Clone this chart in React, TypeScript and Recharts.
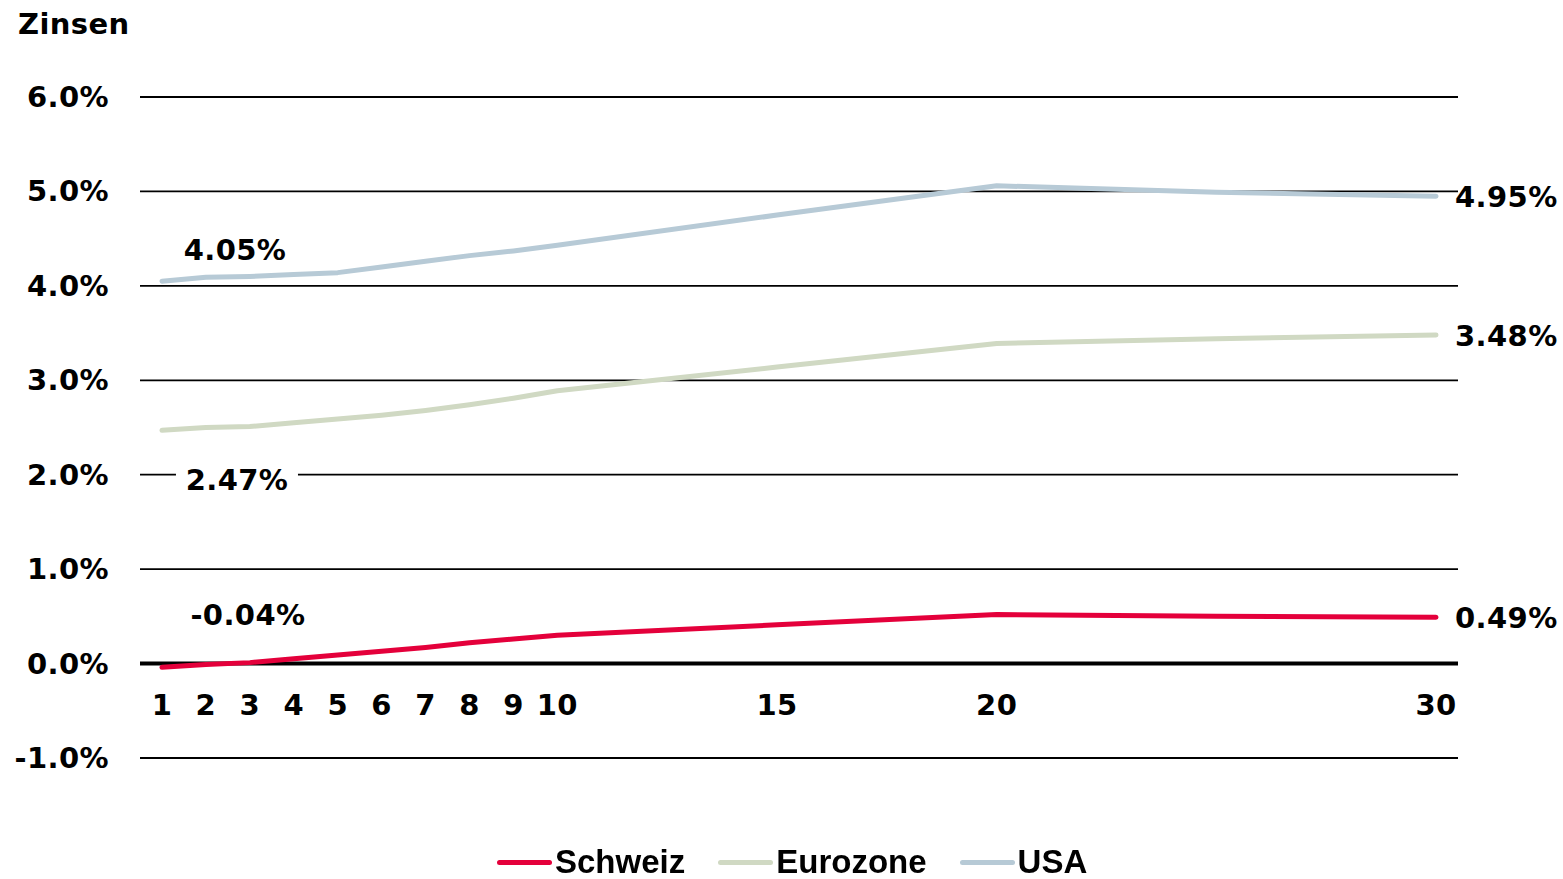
import React from 'react';
import { CartesianGrid, LabelList, Line, LineChart, ReferenceLine, XAxis, YAxis } from 'recharts';

const years = [1, 2, 3, 4, 5, 6, 7, 8, 9, 10, 15, 20, 25, 30];
const schweiz = [-0.04, -0.01, 0.01, 0.05, 0.09, 0.13, 0.17, 0.22, 0.26, 0.3, 0.41, 0.52, 0.5, 0.49];
const eurozone = [2.47, 2.5, 2.51, 2.55, 2.59, 2.63, 2.68, 2.74, 2.81, 2.89, 3.14, 3.39, 3.44, 3.48];
const usa = [4.05, 4.09, 4.1, 4.12, 4.14, 4.2, 4.26, 4.32, 4.37, 4.43, 4.75, 5.06, 4.99, 4.95];
const xTicks = [1, 2, 3, 4, 5, 6, 7, 8, 9, 10, 15, 20, 30];
const yTicks = [-1, 0, 1, 2, 3, 4, 5, 6];

const series = [
  { key: 'schweiz', name: 'Schweiz', color: '#e4003b' },
  { key: 'eurozone', name: 'Eurozone', color: '#d0d9c3' },
  { key: 'usa', name: 'USA', color: '#b7cad6' },
];

const data = years.map((y, i) => ({ year: y, schweiz: schweiz[i], eurozone: eurozone[i], usa: usa[i] }));

const FONT = '"DejaVu Sans", sans-serif';
const FS = 29;
const LS = 0.4;
const fmt = (v: number) => v.toFixed(2) + '%';
const last = years.length - 1;

// first-point label offsets per series
const firstOffset: Record<string, { dx: number; dy: number; bg?: boolean }> = {
  usa: { dx: 73, dy: -31 },
  eurozone: { dx: 75, dy: 50, bg: true },
  schweiz: { dx: 86, dy: -52 },
};

const txt = { fontFamily: FONT, fontWeight: 'bold', fontSize: FS, letterSpacing: LS, fill: '#000' } as any;

const makeLabel = (key: string) => (props: any) => {
  const { x, y, value, index } = props;
  if (index === 0) {
    const o = firstOffset[key];
    return (
      <g>
        {o.bg && <rect x={x + o.dx - 61} y={y + o.dy - 16} width={122} height={32} fill="#fff" />}
        <text x={x + o.dx} y={y + o.dy} textAnchor="middle" dominantBaseline="central" {...txt}>{fmt(value)}</text>
      </g>
    );
  }
  if (index === last) {
    return (
      <text x={x + 19} y={y + 1} textAnchor="start" dominantBaseline="central" {...txt}>{fmt(value)}</text>
    );
  }
  return null;
};

const YTick = (props: any) => {
  const { y, payload } = props;
  return (
    <text x={109} y={y} textAnchor="end" dominantBaseline="central" {...txt}>
      {payload.value.toFixed(1) + '%'}
    </text>
  );
};

const XTick = (props: any) => {
  const { x, y, payload } = props;
  return (
    <text x={x} y={y - 53} textAnchor="middle" dominantBaseline="central" {...txt}>
      {payload.value}
    </text>
  );
};

export default function App() {
  return (
    <div style={{ position: 'fixed', left: 0, top: 0, width: 1563, height: 879, background: '#fff' }}>
      <div style={{ position: 'absolute', left: 18, top: 10, fontFamily: FONT, fontWeight: 'bold', fontSize: FS, letterSpacing: LS, lineHeight: '28px' }}>
        Zinsen
      </div>
      <LineChart width={1563} height={879} data={data} margin={{ top: 97, right: 105, bottom: 91, left: 0 }}>
        <CartesianGrid vertical={false} stroke="#000" strokeWidth={1.8} />
        <XAxis dataKey="year" type="number" domain={[0.5, 30.5]} ticks={xTicks} height={30}
          axisLine={false} tickLine={false} tickSize={0} tickMargin={0} tick={<XTick />} interval={0} />
        <YAxis type="number" domain={[-1, 6]} ticks={yTicks} width={140}
          axisLine={false} tickLine={false} tick={<YTick />} interval={0} />
        <ReferenceLine y={0} stroke="#000" strokeWidth={4} />
        {series.map((s) => (
          <Line key={s.key} type="linear" dataKey={s.key} name={s.name} stroke={s.color} strokeWidth={5}
            strokeLinecap="round" strokeLinejoin="round" dot={false} activeDot={false} isAnimationActive={false}>
            <LabelList dataKey={s.key} content={makeLabel(s.key)} />
          </Line>
        ))}
      </LineChart>
      <div style={{ position: 'absolute', left: 497, top: 842, display: 'flex', alignItems: 'center',
        fontFamily: '"Liberation Sans", Arial, sans-serif', fontWeight: 'bold', fontSize: 33, lineHeight: '40px' }}>
        {series.map((s) => (
          <div key={s.key} style={{ display: 'flex', alignItems: 'center', marginRight: 33 }}>
            <span style={{ display: 'inline-block', width: 55, height: 5, borderRadius: 3, background: s.color, marginRight: 3 }} />
            <span>{s.name}</span>
          </div>
        ))}
      </div>
    </div>
  );
}
